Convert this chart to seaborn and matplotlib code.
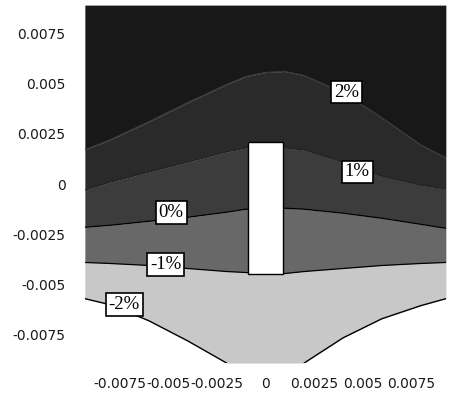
import numpy as np
import pandas as pd
import matplotlib
matplotlib.use("Agg")
import matplotlib.pyplot as plt
import seaborn as sns

# ---- data ----
x_pos = [-0.0093, -0.008, -0.006, -0.004, -0.002, -0.001, 0.0, 0.001, 0.002, 0.004, 0.006, 0.008, 0.0093]
c_p2 = [0.0017, 0.0022, 0.0031, 0.00405, 0.00495, 0.00535, 0.00555, 0.0056, 0.0054, 0.00455, 0.0033, 0.00195, 0.0013]
c_p1 = [-0.0003, 0.0001, 0.0006, 0.0011, 0.0016, 0.0018, 0.00185, 0.0018, 0.0017, 0.0011, 0.0004, -0.00005, -0.00025]
c_0 = [-0.00215, -0.00205, -0.00185, -0.00165, -0.0014, -0.00125, -0.0012, -0.0012, -0.00125, -0.00145, -0.0017, -0.002, -0.0022]
c_m1 = [-0.0039, -0.00395, -0.00405, -0.0042, -0.00435, -0.0044, -0.00445, -0.00445, -0.00435, -0.0042, -0.00405, -0.00395, -0.0039]
c_m2 = [-0.0057, -0.006, -0.0068, -0.0078, -0.0089, -0.0089, -0.0089, -0.0089, -0.0089, -0.00765, -0.0067, -0.00605, -0.0057]

levels = ["2%", "1%", "0%", "-1%", "-2%"]
label_x = [0.00417, 0.00474, -0.00485, -0.00515, -0.00727]
label_y = [0.00457, 0.0006, -0.0014, -0.004, -0.006]

rect_x = [-0.0009, 0.0009]
rect_y = [-0.00445, 0.0021]

x_ticks = [-0.0075, -0.005, -0.0025, 0, 0.0025, 0.005, 0.0075]
x_tick_labels = ["-0.0075", "-0.005", "-0.0025", "0", "0.0025", "0.005", "0.0075"]
y_ticks = [-0.0075, -0.005, -0.0025, 0, 0.0025, 0.005, 0.0075]
y_tick_labels = ["-0.0075", "-0.005", "-0.0025", "0", "0.0025", "0.005", "0.0075"]

XLIM = (-0.0093, 0.0093)
YLIM = (-0.0089, 0.0089)

sns.set_theme(style="white")
plt.rcParams["font.family"] = ["DejaVu Sans"]
plt.rcParams["axes.unicode_minus"] = False

fig = plt.figure(figsize=(4.49, 3.93), dpi=100)
ax = fig.add_axes([0.189, 0.0763, 0.804, 0.9107])

xs = np.array(x_pos)
top = np.full_like(xs, YLIM[1])
band_colors = ["#181818", "#2a2a2a", "#3c3c3c", "#686868", "#c8c8c8"]
bounds = [top, np.array(c_p2), np.array(c_p1), np.array(c_0), np.array(c_m1), np.array(c_m2)]
for i, col in enumerate(band_colors):
    ax.fill_between(xs, bounds[i + 1], bounds[i], color=col, linewidth=0)

# contour lines
line_sets = [c_p2, c_p1, c_0, c_m1]
line_colors = ["#3a3a3a", "#222222", "black", "black"]
for vals, lc in zip(line_sets, line_colors):
    sns.lineplot(x=x_pos, y=vals, color=lc, lw=0.9, ax=ax, sort=False, estimator=None)
# -2% line: skip the part lying on the lower edge
m2 = np.array(c_m2)
on_edge = m2 <= YLIM[0] + 1e-9
left_idx = [i for i in range(len(m2)) if i <= np.argmax(on_edge)]
right_idx = [i for i in range(len(m2)) if i >= len(m2) - 1 - np.argmax(on_edge[::-1])]
for idx in (left_idx, right_idx):
    sns.lineplot(x=xs[idx], y=m2[idx], color="black", lw=1.0, ax=ax, sort=False, estimator=None)

# white rectangle
ax.add_patch(plt.Rectangle((rect_x[0], rect_y[0]), rect_x[1] - rect_x[0], rect_y[1] - rect_y[0],
                           facecolor="white", edgecolor="black", lw=1.0, zorder=5))

# level labels
for lx, ly, t in zip(label_x, label_y, levels):
    ax.text(lx, ly, t, ha="center", va="center", fontsize=13.5, family=["Liberation Serif"],
            color="black", zorder=6,
            bbox=dict(boxstyle="square,pad=0.15", facecolor="white", edgecolor="black", lw=1.2))

ax.set_xlim(*XLIM)
ax.set_ylim(*YLIM)
ax.set_xticks(x_ticks)
ax.set_xticklabels(x_tick_labels)
ax.set_yticks(y_ticks)
ax.set_yticklabels(y_tick_labels)
ax.tick_params(axis="both", length=0, labelsize=10, colors="#1a1a1a")
ax.tick_params(axis="x", pad=10)
ax.tick_params(axis="y", pad=14)
for s in ax.spines.values():
    s.set_visible(False)
ax.set_xlabel("")
ax.set_ylabel("")

fig.savefig("out.png", dpi=100)
